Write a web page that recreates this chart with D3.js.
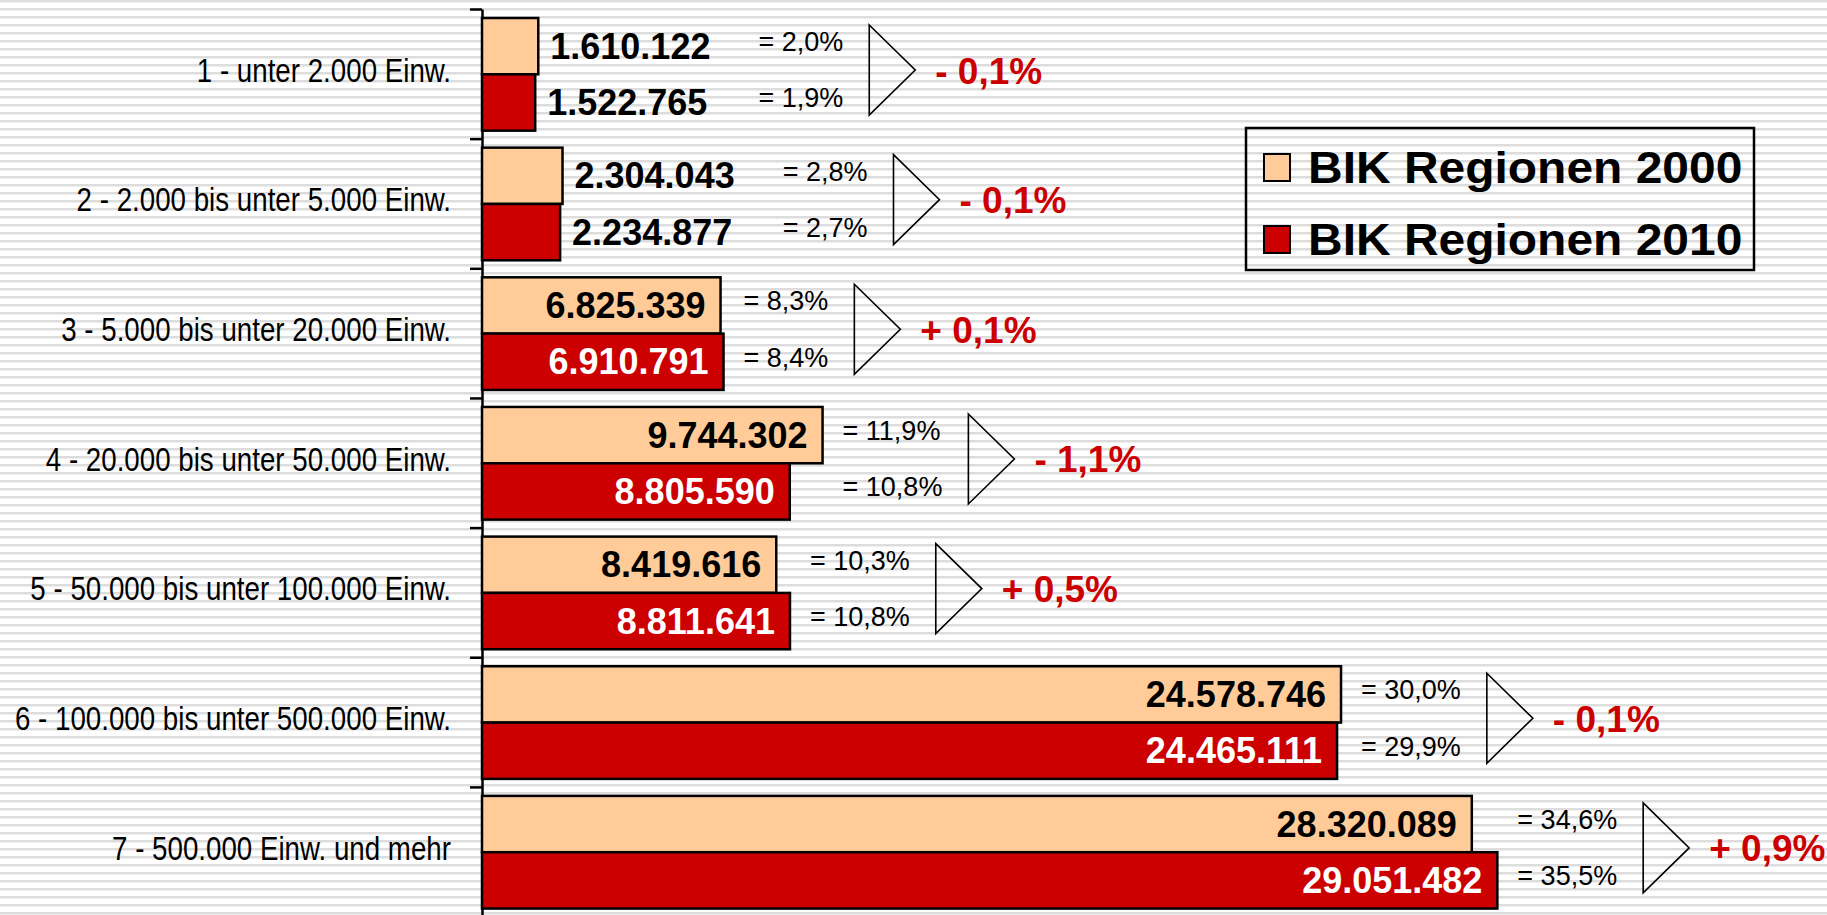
<!DOCTYPE html>
<html>
<head>
<meta charset="utf-8">
<script src="https://cdn.jsdelivr.net/npm/d3@7"></script>
<style>
  html, body { margin: 0; padding: 0; background: #fff; }
  svg { display: block; }
</style>
</head>
<body>
<div id="chart"></div>
<script>
// Gemeindegrößenklassen (BIK Regionen), Einwohner 2000 vs 2010
var categories = [
  "1 - unter 2.000 Einw.",
  "2 - 2.000 bis unter 5.000 Einw.",
  "3 - 5.000 bis unter 20.000 Einw.",
  "4 - 20.000 bis unter 50.000 Einw.",
  "5 - 50.000 bis unter 100.000 Einw.",
  "6 - 100.000 bis unter 500.000 Einw.",
  "7 - 500.000 Einw. und mehr"
];
var series = ["BIK Regionen 2000", "BIK Regionen 2010"];
var values2000 = [1610122, 2304043, 6825339, 9744302, 8419616, 24578746, 28320089];
var values2010 = [1522765, 2234877, 6910791, 8805590, 8811641, 24465111, 29051482];
// Anteile in %
var share2000 = [2.0, 2.8, 8.3, 11.9, 10.3, 30.0, 34.6];
var share2010 = [1.9, 2.7, 8.4, 10.8, 10.8, 29.9, 35.5];

var W = 1827, H = 915;
var colors = ["#FFCC99", "#CC0000"];
var font = "'Liberation Sans', Arial, sans-serif";

var de = d3.formatLocale({decimal: ",", thousands: ".", grouping: [3], currency: ["", " €"]});
var fmtNum = de.format(",d");
var fmtPct = de.format(".1f");

var svg = d3.select("#chart").append("svg")
  .attr("width", W)
  .attr("height", H);

// striped background
var pat = svg.append("defs").append("pattern")
  .attr("id", "stripes")
  .attr("patternUnits", "userSpaceOnUse")
  .attr("width", 8).attr("height", 8);
pat.append("rect").attr("width", 8).attr("height", 8).attr("fill", "#ffffff");
pat.append("rect").attr("y", 0).attr("width", 8).attr("height", 2).attr("fill", "#dddddd");
pat.append("rect").attr("y", 2).attr("width", 8).attr("height", 1).attr("fill", "#eeeeee");
svg.append("rect").attr("width", W).attr("height", H).attr("fill", "url(#stripes)");

var x = d3.scaleLinear().domain([0, 30000000]).range([482, 1530.5]);
var y = d3.scaleBand().domain(categories).range([9, 9 + 7 * 129.65]);
var y1 = d3.scaleBand().domain(series).range([9, y.bandwidth() - 8]);

var rows = categories.map(function(c, i) {
  return {
    cat: c,
    vals: [values2000[i], values2010[i]],
    shares: [share2000[i], share2010[i]],
    change: Math.round((share2010[i] - share2000[i]) * 10) / 10
  };
});

// axis with ticks at the band edges
var yEdge = d3.scaleLinear().domain([0, categories.length]).range(y.range());
svg.append("g")
  .attr("transform", "translate(482,0)")
  .call(d3.axisLeft(yEdge).ticks(categories.length).tickSize(12).tickSizeOuter(0).tickFormat(""))
  .call(function(g) {
    g.selectAll("path, line").attr("stroke", "#000").attr("stroke-width", 2.5);
  });

// category labels (condensed like Arial Narrow)
svg.append("g").selectAll("text")
  .data(categories)
  .enter().append("text")
    .attr("transform", function(d) {
      return "translate(451," + (y(d) + y.bandwidth() / 2 - 4) + ") scale(0.84,1)";
    })
    .attr("text-anchor", "end")
    .attr("dominant-baseline", "central")
    .style("font-family", font)
    .style("font-size", "33px")
    .attr("fill", "#000")
    .text(function(d) { return d; });

var groups = svg.append("g").selectAll("g")
  .data(rows)
  .enter().append("g")
    .attr("transform", function(d) { return "translate(0," + y(d.cat) + ")"; });

groups.each(function(r) {
  var g = d3.select(this);
  var right = 0, outside = false;

  series.forEach(function(s, k) {
    var v = r.vals[k];
    var by = y1(s), bh = y1.bandwidth();
    g.append("rect")
      .attr("x", x(0))
      .attr("y", by)
      .attr("width", x(v) - x(0))
      .attr("height", bh)
      .attr("fill", colors[k])
      .attr("stroke", "#000")
      .attr("stroke-width", 2.5);

    var t = g.append("text")
      .attr("y", by + bh / 2)
      .attr("dominant-baseline", "central")
      .style("font-family", font)
      .style("font-weight", "bold")
      .style("font-size", "36px")
      .text(fmtNum(v));
    var tw = t.node().getComputedTextLength();
    if (x(v) - x(0) > tw + 30) {
      t.attr("x", x(v) - 15).attr("text-anchor", "end").attr("fill", k === 0 ? "#000" : "#fff");
      right = Math.max(right, x(v));
    } else {
      t.attr("x", x(v) + 12).attr("text-anchor", "start").attr("fill", "#000");
      right = Math.max(right, x(v) + 12 + tw);
      outside = true;
    }
  });

  // share labels
  var px = right + (outside ? 48 : 20), pw = 0;
  series.forEach(function(s, k) {
    var t = g.append("text")
      .attr("x", px)
      .attr("y", y1(s) + y1.bandwidth() / 2 - 4)
      .attr("dominant-baseline", "central")
      .style("font-family", font)
      .style("font-size", "27px")
      .attr("fill", "#000")
      .text("= " + fmtPct(r.shares[k]) + "%");
    pw = Math.max(pw, t.node().getComputedTextLength());
  });

  // arrow triangle
  var tx = px + pw + 26;
  g.append("path")
    .attr("d", "M" + tx + ",16L" + (tx + 46) + ",61L" + tx + ",106Z")
    .attr("fill", "none")
    .attr("stroke", "#000")
    .attr("stroke-width", 1.6);

  // change in percentage points
  g.append("text")
    .attr("x", tx + 46 + 20)
    .attr("y", 62)
    .attr("dominant-baseline", "central")
    .style("font-family", font)
    .style("font-weight", "bold")
    .style("font-size", "37px")
    .attr("fill", "#CC0000")
    .text((r.change < 0 ? "- " : "+ ") + fmtPct(Math.abs(r.change)) + "%");
});

// legend
var legend = svg.append("g");
legend.append("rect")
  .attr("x", 1246).attr("y", 128)
  .attr("width", 508).attr("height", 142)
  .attr("fill", "none")
  .attr("stroke", "#000")
  .attr("stroke-width", 2.5);
series.forEach(function(s, k) {
  var cy = 167.5 + k * 72;
  legend.append("rect")
    .attr("x", 1264).attr("y", cy - 13.5)
    .attr("width", 26).attr("height", 27)
    .attr("fill", colors[k])
    .attr("stroke", "#000")
    .attr("stroke-width", 2);
  legend.append("text")
    .attr("transform", "translate(1308," + cy + ") scale(1.09,1)")
    .attr("dominant-baseline", "central")
    .style("font-family", font)
    .style("font-weight", "bold")
    .style("font-size", "44px")
    .attr("fill", "#000")
    .text(s);
});
</script>
</body>
</html>
